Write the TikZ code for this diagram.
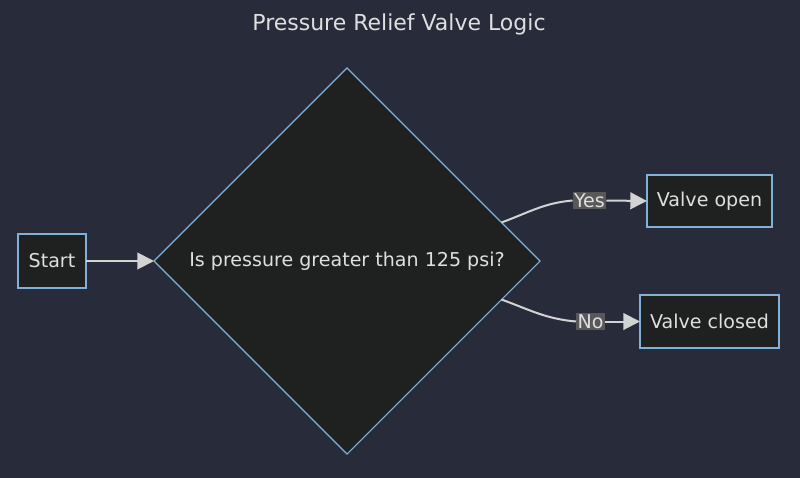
\documentclass[tikz,border=0pt]{standalone}
\usepackage{fontspec}
\setmainfont{DejaVu Sans}
\usepackage{tikz}
\usetikzlibrary{positioning, arrows.meta, shapes.geometric}
\definecolor{pagebg}{HTML}{282C3A}
\definecolor{nodebg}{HTML}{1F2020}
\definecolor{nodeline}{HTML}{81B1DB}
\definecolor{textgrey}{HTML}{E0DFDF}
\definecolor{edgegrey}{HTML}{D3D3D3}
\definecolor{labelbg}{HTML}{585858}

\begin{document}
\begin{tikzpicture}[x=0.75pt, y=-0.75pt,
    box/.style={fill=nodebg, draw=nodeline, line width=0.8pt, text=textgrey,
                font=\fontsize{14.3}{16}\selectfont, inner sep=0pt, outer sep=0pt},
    edge/.style={draw=edgegrey, line width=1.5pt},
    tip/.style={-{Triangle[length=12.5pt, width=12.5pt]}},
    edgelabel/.style={fill=labelbg, text=textgrey, inner sep=1pt,
                      font=\fontsize{14.3}{16}\selectfont}]
    \fill[pagebg] (0,0) rectangle (800,478);
    \useasboundingbox (0,0) rectangle (800,478);

    \node[text=textgrey, font=\fontsize{16.5}{19}\selectfont] (title) at (399,24)
      {Pressure Relief Valve Logic};

    \node[box, minimum width=51pt, minimum height=40.5pt] (start) at (52,261) {Start};
    \node[box, diamond, aspect=1, minimum width=289.5pt, minimum height=289.5pt]
      (check) at (347,261) {Is pressure greater than 125 psi?};
    \node[box, minimum width=93.75pt, minimum height=39pt] (open) at (709.5,201) {Valve open};
    \node[box, minimum width=104.25pt, minimum height=39.75pt] (closed) at (709.5,321.5) {Valve closed};

    \node[edgelabel] (yes) at (589.5,200.5) {Yes};
    \node[edgelabel] (no) at (590.5,321.5) {No};

    \draw[edge, tip] (start.east) -- (check.west);
    \draw[edge] (check.14) to[out=20, in=185] (yes.west);
    \draw[edge, tip] (yes.east) -- (open.west);
    \draw[edge] (check.-14) to[out=-20, in=175] (no.west);
    \draw[edge, tip] (no.east) -- (closed.west);
\end{tikzpicture}
\end{document}
